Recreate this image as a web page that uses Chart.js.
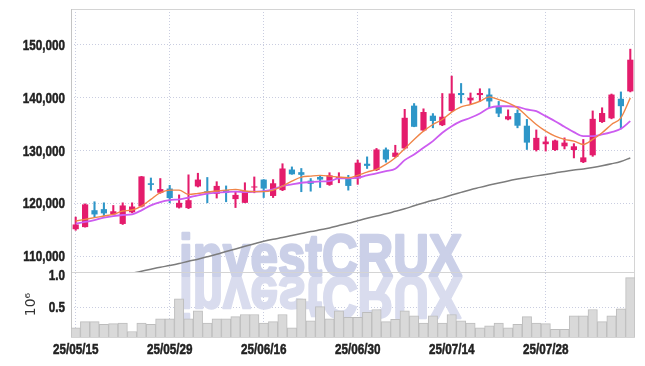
<!DOCTYPE html>
<html>
<head>
<meta charset="utf-8">
<script src="https://cdn.jsdelivr.net/npm/chart.js@4.4.1/dist/chart.umd.min.js"></script>
<style>
  html, body { margin: 0; padding: 0; background: #fff; }
  #wrap { width: 645px; height: 366px; }
</style>
</head>
<body>
<div id="wrap"><canvas id="stockChart" width="645" height="366"></canvas></div>
<script>
// trading days, YY/MM/DD
const dates = [
  '25/05/15','25/05/16','25/05/19','25/05/20','25/05/21','25/05/22','25/05/23','25/05/26','25/05/27','25/05/28',
  '25/05/29','25/05/30','25/06/02','25/06/04','25/06/05','25/06/09','25/06/10','25/06/11','25/06/12','25/06/13',
  '25/06/16','25/06/17','25/06/18','25/06/19','25/06/20','25/06/23','25/06/24','25/06/25','25/06/26','25/06/27',
  '25/06/30','25/07/01','25/07/02','25/07/03','25/07/04','25/07/07','25/07/08','25/07/09','25/07/10','25/07/11',
  '25/07/14','25/07/15','25/07/16','25/07/17','25/07/18','25/07/21','25/07/22','25/07/23','25/07/24','25/07/25',
  '25/07/28','25/07/29','25/07/30','25/07/31','25/08/01','25/08/04','25/08/05','25/08/06','25/08/07','25/08/08'
];

const openP = [
  115100,115500,118700,118900,117900,116100,118300,119400,123800,122000,
  122800,119200,119100,123200,122300,121800,122500,120800,120100,123000,
  124500,121400,122500,126400,125900,124300,125000,123500,124700,124900,
  124700,127500,126300,130200,128800,130400,138500,133800,136600,134800,
  137500,140900,139500,140500,140600,138400,135900,137100,134700,130100,
  131200,130100,130800,130100,127800,129100,135400,136100,139800,141200
];
const highP = [
  117400,119900,120300,120100,119600,120100,120100,125100,124800,124700,
  123400,121600,125400,125700,124900,124100,123300,122300,123900,125000,
  124500,124500,127500,126900,126600,124700,125300,125800,125800,125300,
  128200,128800,130400,130500,131000,137800,138900,137900,137000,140800,
  144100,142700,140900,141700,141700,139300,137700,137700,135900,133900,
  132600,132000,132400,131300,132100,137500,138100,140700,141100,149200
];
const lowP = [
  114900,115500,117400,117600,117800,116000,118200,119300,122500,121900,
  120100,119100,119000,123100,120100,121000,120300,119200,120100,122000,
  121100,121100,122400,125500,122200,122300,123000,123400,123900,122500,
  123600,126600,126200,127800,128700,130300,134500,133700,134300,134700,
  137400,139000,138700,139300,138100,136400,135800,134300,130200,129900,
  129900,130000,130300,128600,127700,128900,135300,136000,134100,141100
];
const closeP = [
  116000,119800,117900,118100,118500,119600,119400,125100,123500,122700,
  121000,120100,120600,124500,122000,123300,122000,121600,122300,123200,
  122800,123800,126600,125500,125400,123700,124500,125300,125000,123300,
  127700,127100,130200,128300,129600,136200,134500,137300,135600,136400,
  140800,140500,140000,140900,139300,137000,136500,134700,131500,132400,
  131700,131900,131500,130800,128700,136000,137100,140600,138400,147200
];

// moving averages
const ma5 = [
  116650,116970,117290,117600,117920,118540,118730,119490,120760,122020,
  122510,122510,121700,121890,122140,122330,122510,122650,122330,122210,
  122210,122510,123270,124210,124970,125160,125290,125160,124970,124860,
  125290,125920,126430,127370,128640,130340,132100,133670,134930,135880,
  137260,138280,138710,139330,140160,139650,139030,138090,136510,134930,
  133670,132720,132100,131780,131150,132100,133360,134930,136200,139970
];
const ma20 = [
  116160,116470,116840,117290,117600,117790,117920,118680,119620,120250,
  120620,120760,121100,121510,121830,122020,122140,122210,122140,122210,
  122330,122650,123270,123590,123900,124030,124160,124210,124730,124730,
  124860,125290,125670,126100,126560,128180,129260,130530,131780,133360,
  134610,135560,136200,137020,138090,138390,138390,138280,137770,137450,
  136510,135560,134500,133480,132720,132720,133040,133480,134120,135560
];
const ma60 = [
  null,null,null,null,null,106400,106770,107150,107530,107900,
  108230,108600,109040,109420,109890,110360,110870,111360,111870,112350,
  112820,113200,113520,113900,114270,114650,114990,115330,115790,116220,
  116700,117170,117600,118020,118490,118960,119530,120060,120570,121040,
  121570,122080,122590,123020,123460,123870,124250,124590,124910,125200,
  125480,125760,126050,126300,126520,126800,127130,127500,127940,128600
];

// volume in millions of shares
const volume = [
  0.21,0.30,0.30,0.26,0.27,0.28,0.16,0.28,0.26,0.34,
  0.34,0.62,0.34,0.45,0.28,0.34,0.34,0.37,0.40,0.40,
  0.28,0.30,0.40,0.21,0.62,0.31,0.51,0.34,0.45,0.36,
  0.36,0.43,0.47,0.30,0.33,0.45,0.38,0.28,0.38,0.28,
  0.40,0.31,0.28,0.21,0.24,0.28,0.21,0.26,0.37,0.28,
  0.27,0.19,0.19,0.38,0.38,0.47,0.30,0.38,0.48,0.92
];

const priceTicks = [110000, 120000, 130000, 140000, 150000];
const volumeTicks = [0.5, 1.0];

const UP = '#e41c6c';
const DOWN = '#2e96c8';
const GRID = '#c9cde0';
const LABEL_FONT = "bold 15px 'Liberation Sans', Arial, sans-serif";
const SQUEEZE = 0.78;

function candleColor(c) {
  const i = c.dataIndex;
  return closeP[i] >= openP[i] ? UP : DOWN;
}

// narrow label text: draw with a horizontal squeeze
function squeezedText(ctx, txt, x, y, align) {
  ctx.save();
  ctx.translate(x, y);
  ctx.scale(SQUEEZE, 1);
  ctx.textAlign = align;
  ctx.fillText(txt, 0, 0);
  ctx.strokeText(txt, 0, 0);
  ctx.restore();
}

// watermark text, drawn thick (fill + stroke in one flat colour)
function watermark(ctx, txt, left, base, sx, sy, colour) {
  ctx.save();
  ctx.setTransform(sx, 0, 0, sy, left, base);
  ctx.fillStyle = colour;
  ctx.strokeStyle = colour;
  ctx.lineWidth = 2.5;
  ctx.lineJoin = 'round';
  ctx.fillText(txt, 0, 0);
  ctx.strokeText(txt, 0, 0);
  ctx.restore();
}

// watermark, frame and panel separator
const decor = {
  id: 'decor',
  beforeDatasetsDraw(chart) {
    const ctx = chart.ctx;
    const a = chart.chartArea;
    const base = chart.scales.yv.top + 4;
    ctx.save();
    ctx.font = "bold 60px 'Liberation Sans', Arial, sans-serif";
    ctx.textAlign = 'left';
    ctx.textBaseline = 'alphabetic';
    const txt = 'investCRUX';
    const sx = 283 / ctx.measureText(txt).width;
    const left = 179;
    watermark(ctx, txt, left, base, sx, 1, '#cbd0e8');
    ctx.beginPath();
    ctx.rect(a.left, base + 1, a.right - a.left, 60);
    ctx.clip();
    watermark(ctx, txt, left, base + 1, sx, -1, '#d9dcee');
    ctx.restore();

    ctx.save();
    ctx.strokeStyle = '#d4d4d4';
    ctx.lineWidth = 1;
    ctx.strokeRect(a.left + 0.5, a.top + 0.5, a.right - a.left - 1, a.bottom - a.top);
    ctx.beginPath();
    ctx.moveTo(a.left, Math.round(chart.scales.yv.top) + 0.5);
    ctx.lineTo(a.right, Math.round(chart.scales.yv.top) + 0.5);
    ctx.stroke();
    ctx.strokeStyle = '#c4c4c4';
    ctx.beginPath();
    ctx.moveTo(a.left + 0.5, a.top);
    ctx.lineTo(a.left + 0.5, a.bottom);
    ctx.stroke();
    ctx.restore();
  },
  afterDraw(chart) {
    const ctx = chart.ctx;
    const { x, y, yv } = chart.scales;
    ctx.save();
    ctx.font = LABEL_FONT;
    ctx.fillStyle = '#222';
    ctx.strokeStyle = '#222';
    ctx.lineWidth = 0.5;
    ctx.textBaseline = 'middle';
    priceTicks.forEach(v => squeezedText(ctx, v.toLocaleString('en-US'), 65, y.getPixelForValue(v) + 1, 'right'));
    volumeTicks.forEach(v => {
      const py = Math.max(yv.getPixelForValue(v), yv.top + 4);
      squeezedText(ctx, v.toFixed(1), 65, py, 'right');
    });
    dates.forEach((d, i) => {
      if (i % 10 === 0) squeezedText(ctx, d, x.getPixelForValue(i), chart.chartArea.bottom + 13, 'center');
    });
    ctx.restore();
  }
};

const ctx = document.getElementById('stockChart').getContext('2d');
new Chart(ctx, {
  type: 'bar',
  data: {
    labels: dates,
    datasets: [
      {
        type: 'line', label: 'MA5', data: ma5, yAxisID: 'y',
        borderColor: '#f08548', borderWidth: 1.4, pointRadius: 0,
        cubicInterpolationMode: 'monotone', order: 0
      },
      {
        type: 'line', label: 'MA20', data: ma20, yAxisID: 'y',
        borderColor: '#cc5cf0', borderWidth: 1.8, pointRadius: 0,
        cubicInterpolationMode: 'monotone', order: 0
      },
      {
        type: 'line', label: 'MA60', data: ma60, yAxisID: 'y',
        borderColor: '#7c7c7c', borderWidth: 1.5, pointRadius: 0,
        cubicInterpolationMode: 'monotone', order: 0
      },
      {
        label: 'body', yAxisID: 'y', grouped: false,
        data: dates.map((d, i) => [openP[i], closeP[i]]),
        backgroundColor: candleColor,
        borderWidth: 0,
        barPercentage: 0.66, categoryPercentage: 1, order: 1
      },
      {
        label: 'wick', yAxisID: 'y', grouped: false,
        data: dates.map((d, i) => [lowP[i], highP[i]]),
        backgroundColor: candleColor,
        barThickness: 1.4, order: 2
      },
      {
        label: 'volume', yAxisID: 'yv', grouped: false,
        data: volume,
        backgroundColor: '#d9d9d9', borderColor: '#bdbdbd', borderWidth: 1,
        barPercentage: 1, categoryPercentage: 1, order: 3
      }
    ]
  },
  options: {
    responsive: false,
    animation: false,
    events: [],
    layout: { padding: { top: 9, right: 10, bottom: 0, left: 0 } },
    plugins: { legend: { display: false }, tooltip: { enabled: false } },
    scales: {
      x: {
        type: 'category',
        offset: true,
        afterFit: s => { s.height = 29; },
        grid: {
          offset: false, drawTicks: false,
          color: c => (c.index % 10 === 0 ? GRID : 'rgba(0,0,0,0)')
        },
        border: { display: false, dash: [1, 2] },
        ticks: { display: false, autoSkip: false }
      },
      yv: {
        position: 'left', stack: 'panes', stackWeight: 65,
        min: 0.082, max: 1.0,
        afterBuildTicks: s => { s.ticks = volumeTicks.map(v => ({ value: v })); },
        afterFit: s => { s.width = 71; },
        grid: { color: GRID, drawTicks: false },
        border: { display: false, dash: [1, 2] },
        title: {
          display: true, text: '10\u2076', color: '#333',
          font: { family: "'DejaVu Sans', sans-serif", size: 14 },
          padding: { top: 23, bottom: 0 }
        },
        ticks: { display: false }
      },
      y: {
        position: 'left', stack: 'panes', stackWeight: 263,
        min: 107000, max: 156800,
        afterBuildTicks: s => { s.ticks = priceTicks.map(v => ({ value: v })); },
        afterFit: s => { s.width = 71; },
        grid: { color: GRID, drawTicks: false },
        border: { display: false, dash: [1, 2] },
        ticks: { display: false }
      }
    }
  },
  plugins: [decor]
});
</script>
</body>
</html>
